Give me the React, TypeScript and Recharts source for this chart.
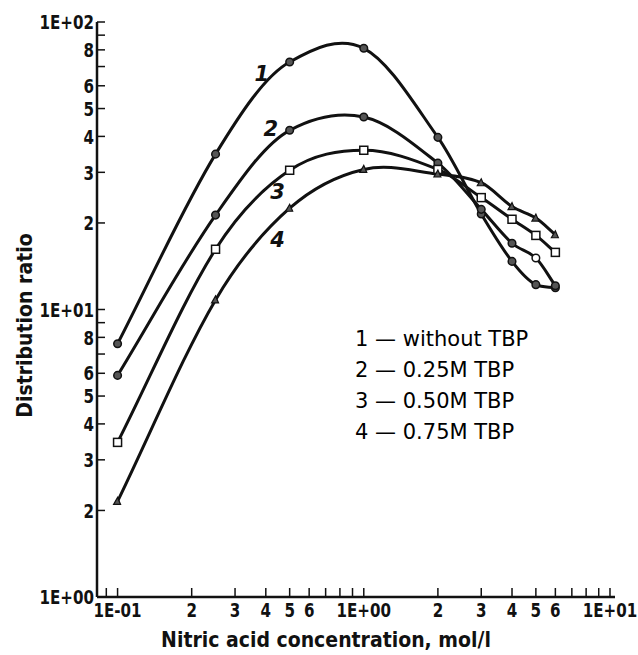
import React from 'react';
import {
  LineChart,
  Line,
  XAxis,
  YAxis,
  ReferenceDot,
} from 'recharts';

// nitric acid concentration, mol/l
const xValues = [0.1, 0.25, 0.5, 1, 2, 3, 4, 5, 6];

// distribution ratios
const ratioNoTbp = [7.6, 34.7, 72.6, 81, 39.7, 21.5, 14.7, 12.2, 11.9];
const ratio025 = [5.9, 21.3, 42, 46.7, 32.3, 22.3, 17, 15.1, 12.1];
const ratio050 = [3.45, 16.2, 30.5, 35.8, 30.7, 24.5, 20.6, 18.1, 15.8];
const ratio075 = [2.15, 10.8, 22.5, 30.7, 29.6, 27.6, 22.8, 20.8, 18.2];

const seriesNames = ['without TBP', '0.25M TBP', '0.50M TBP', '0.75M TBP'];
const seriesKeys = ['s1', 's2', 's3', 's4'];

// curve numbers written next to the lines (x, y in data units)
const curveLabelX = [0.385, 0.419, 0.447, 0.447];
const curveLabelY = [66, 42.4, 25.6, 17.5];

const xTicks = [0.09, 0.1, 0.2, 0.3, 0.4, 0.5, 0.6, 0.7, 0.8, 0.9, 1, 2, 3, 4, 5, 6, 7, 8, 9, 10];
const xTickLabels = ['', '1E-01', '2', '3', '4', '5', '6', '', '', '', '1E+00', '2', '3', '4', '5', '6', '', '', '', '1E+01'];

const yTicks = [1, 2, 3, 4, 5, 6, 7, 8, 9, 10, 20, 30, 40, 50, 60, 70, 80, 90, 100];
const yTickLabels = ['1E+00', '2', '3', '4', '5', '6', '', '8', '', '1E+01', '2', '3', '4', '5', '6', '', '8', '', '1E+02'];

const data = xValues.map((x, i) => ({
  x,
  s1: ratioNoTbp[i],
  s2: ratio025[i],
  s3: ratio050[i],
  s4: ratio075[i],
}));

const INK = '#111';
const TICK_FONT = '"DejaVu Sans Condensed", "DejaVu Sans", sans-serif';
const TITLE_FONT = '"DejaVu Sans Condensed", "DejaVu Sans", sans-serif';

// smooth curve through the points: cubic Hermite with centred slopes,
// limited on monotone stretches so the tails do not hook
const smoothCurve = (context: any) => {
  let pts: number[][] = [];
  return {
    areaStart() {},
    areaEnd() {},
    lineStart() {
      pts = [];
    },
    lineEnd() {
      const n = pts.length;
      if (!n) return;
      context.moveTo(pts[0][0], pts[0][1]);
      if (n === 1) return;
      const sec: number[] = [];
      for (let i = 0; i < n - 1; i++) {
        sec.push((pts[i + 1][1] - pts[i][1]) / (pts[i + 1][0] - pts[i][0]));
      }
      const slope = (i: number) => {
        if (i === 0) return sec[0];
        if (i === n - 1) return sec[n - 2];
        let c = (pts[i + 1][1] - pts[i - 1][1]) / (pts[i + 1][0] - pts[i - 1][0]);
        if (sec[i - 1] * sec[i] > 0) {
          const lim = 3 * Math.min(Math.abs(sec[i - 1]), Math.abs(sec[i]));
          if (Math.abs(c) > lim) c = Math.sign(c) * lim;
        }
        return c;
      };
      for (let i = 0; i < n - 1; i++) {
        const [x0, y0] = pts[i];
        const [x1, y1] = pts[i + 1];
        const h = (x1 - x0) / 3;
        context.bezierCurveTo(x0 + h, y0 + slope(i) * h, x1 - h, y1 - slope(i + 1) * h, x1, y1);
      }
    },
    point(x: number, y: number) {
      pts.push([+x, +y]);
    },
  };
};

const labelFor = (ticks: number[], labels: string[], v: number) => {
  const i = ticks.findIndex((t) => Math.abs(t - v) < 1e-9);
  return i >= 0 ? labels[i] : '';
};

const YTick = (props: any) => {
  const { x, y, payload } = props;
  const text = labelFor(yTicks, yTickLabels, payload.value);
  const axisX = x + 3;
  return (
    <g>
      <line x1={axisX} x2={axisX + 8} y1={y} y2={y} stroke={INK} strokeWidth={1.5} />
      {text && (
        <text
          transform={`translate(${x} ${y}) scale(0.84 1)`}
          textAnchor="end"
          dy="0.36em"
          fontFamily={TICK_FONT}
          fontWeight="bold"
          fontSize={20}
          fill={INK}
        >
          {text}
        </text>
      )}
    </g>
  );
};

const XTick = (props: any) => {
  const { x, y, payload } = props;
  const text = labelFor(xTicks, xTickLabels, payload.value);
  const axisY = y - 3;
  return (
    <g>
      <line x1={x} x2={x} y1={axisY} y2={axisY - 9} stroke={INK} strokeWidth={1.5} />
      {text && (
        <text
          transform={`translate(${x} ${y}) scale(0.84 1)`}
          textAnchor="middle"
          dy="0.85em"
          fontFamily={TICK_FONT}
          fontWeight="bold"
          fontSize={20}
          fill={INK}
        >
          {text}
        </text>
      )}
    </g>
  );
};

const RoundDot = (props: any) => {
  const { cx, cy } = props;
  if (cx == null || cy == null) return null;
  return <circle cx={cx} cy={cy} r={3.8} fill="#555" stroke={INK} strokeWidth={1.5} />;
};

const RoundDot2 = (props: any) => {
  const { cx, cy, payload } = props;
  if (cx == null || cy == null) return null;
  const open = payload && payload.x === 5;
  return <circle cx={cx} cy={cy} r={3.8} fill={open ? '#fff' : '#555'} stroke={INK} strokeWidth={1.5} />;
};

const SquareDot = (props: any) => {
  const { cx, cy } = props;
  if (cx == null || cy == null) return null;
  return <rect x={cx - 4} y={cy - 4} width={8} height={8} fill="#fff" stroke={INK} strokeWidth={1.5} />;
};

const TriDot = (props: any) => {
  const { cx, cy } = props;
  if (cx == null || cy == null) return null;
  return (
    <path
      d={`M${cx - 4},${cy + 3} L${cx + 3},${cy + 3} L${cx},${cy - 4} Z`}
      fill="#555"
      stroke={INK}
      strokeWidth={1.2}
    />
  );
};

const dots = [RoundDot, RoundDot2, SquareDot, TriDot];

const XTitle = (props: any) => {
  const vb = props.viewBox || {};
  return (
    <text
      x={vb.x + vb.width / 2 - 30}
      y={vb.y + vb.height - 8}
      textAnchor="middle"
      fontFamily={TITLE_FONT}
      fontWeight="bold"
      fontSize={21}
      fill={INK}
    >
      Nitric acid concentration, mol/l
    </text>
  );
};

const YTitle = (props: any) => {
  const vb = props.viewBox || {};
  const cx = vb.x + 24;
  const cy = vb.y + vb.height / 2 + 16;
  return (
    <text
      transform={`translate(${cx} ${cy}) rotate(-90)`}
      textAnchor="middle"
      dy="0.36em"
      fontFamily={TITLE_FONT}
      fontWeight="bold"
      fontSize={21}
      fill={INK}
    >
      Distribution ratio
    </text>
  );
};

export default function App() {
  return (
    <div style={{ position: 'absolute', left: 0, top: 0, width: 638, height: 655, background: '#fff' }}>
      <LineChart
        width={638}
        height={655}
        data={data}
        margin={{ top: 22, right: 23, bottom: 0, left: 0 }}
      >
        <XAxis
          dataKey="x"
          type="number"
          scale="log"
          domain={[0.0825, 10.48]}
          allowDataOverflow
          ticks={xTicks}
          interval={0}
          height={58}
          tickSize={0}
          tickMargin={3}
          tickLine={false}
          axisLine={{ stroke: INK, strokeWidth: 2.5 }}
          tick={<XTick />}
          label={<XTitle />}
        />
        <XAxis xAxisId="top" orientation="top" height={0} tick={false} tickLine={false} axisLine={{ stroke: '#333', strokeWidth: 1.5 }} />
        <YAxis
          type="number"
          scale="log"
          domain={[1, 100]}
          allowDataOverflow
          ticks={yTicks}
          interval={0}
          width={97}
          tickSize={0}
          tickMargin={3}
          tickLine={false}
          axisLine={{ stroke: INK, strokeWidth: 2.5 }}
          tick={<YTick />}
          label={<YTitle />}
        />
        <YAxis yAxisId="right" orientation="right" width={0} tick={false} tickLine={false} axisLine={{ stroke: INK, strokeWidth: 2.5 }} />
        {seriesKeys.map((k, i) => {
          const Dot = dots[i];
          return (
            <Line
              key={k}
              dataKey={k}
              name={seriesNames[i]}
              type={smoothCurve as any}
              stroke={INK}
              strokeWidth={3}
              dot={<Dot />}
              activeDot={false}
              isAnimationActive={false}
            />
          );
        })}
        {seriesKeys.map((k, i) => (
          <ReferenceDot
            key={`lbl-${k}`}
            x={curveLabelX[i]}
            y={curveLabelY[i]}
            r={0}
            ifOverflow="visible"
            shape={(p: any) => (
              <text
                x={p.cx}
                y={p.cy}
                dy="0.35em"
                textAnchor="middle"
                fontFamily='"DejaVu Sans", sans-serif'
                fontStyle="italic"
                fontWeight="bold"
                fontSize={21}
                fill={INK}
              >
                {i + 1}
              </text>
            )}
          />
        ))}
      </LineChart>
      <div
        style={{
          position: 'absolute',
          left: 355,
          top: 324,
          fontFamily: '"DejaVu Sans", sans-serif',
          fontSize: 21,
          lineHeight: '31px',
          color: '#000',
        }}
      >
        {seriesNames.map((n, i) => (
          <div key={n} style={{ whiteSpace: 'nowrap' }}>
            {i + 1} — {n}
          </div>
        ))}
      </div>
    </div>
  );
}
